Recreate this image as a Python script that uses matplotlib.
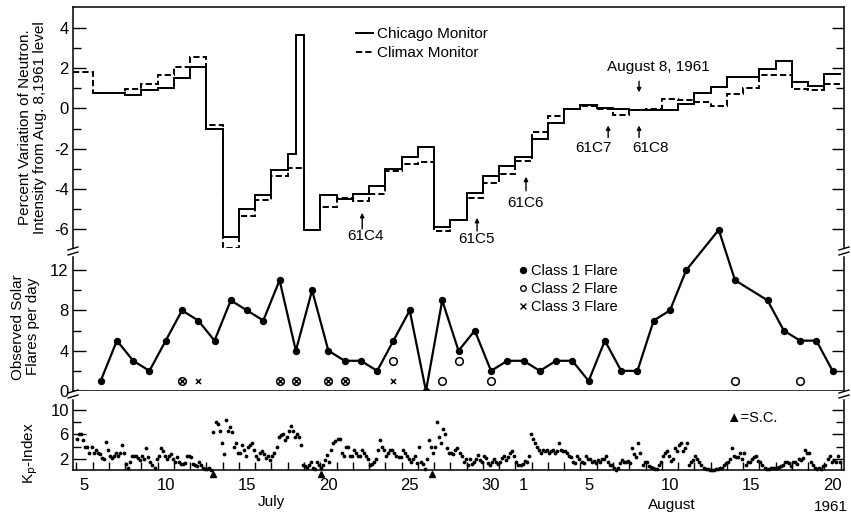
import matplotlib.pyplot as plt
import matplotlib.transforms as mtransforms
import numpy as np
from matplotlib.lines import Line2D

plt.rcParams['font.family'] = ['Liberation Sans', 'DejaVu Sans']
plt.rcParams['axes.unicode_minus'] = False

# time axis: July d -> d, August d -> 31 + d (day start); day centre is d + 0.5
AUG = 31
first_day = 5            # July 5
last_day = AUG + 20      # Aug 20

# ---- neutron monitor daily means (% from Aug 8 level), July 5 .. Aug 20 ----
chicago = [np.nan, 0.78, 0.78, 0.65, 0.9, 1.03, 1.53, 2.07, -1.02, -6.4,
           -5.02, -4.3, -3.07, -2.27, -6.07, -4.3, -4.5, -4.27, -3.88, -3.02,
           -2.4, -1.93, -5.9, -5.55, -4.23, -3.38, -2.88,
           -2.4, -1.52, -0.73, -0.02, 0.18, 0.03, -0.02, -0.1, -0.1, -0.1,
           0.2, 0.78, 1.07, 1.57, 1.57, 1.95, 2.37, 1.32, 1.1, 1.7]
climax = [1.82, 0.78, 0.78, 0.98, 1.23, 1.65, 2.07, 2.57, -0.82, -6.93,
          -5.35, -4.55, -3.38, -2.98, -6.07, -4.9, -4.45, -4.6, -4.27, -3.1,
          -2.77, -2.65, -6.1, -5.55, -4.47, -3.73, -3.27,
          -2.63, -1.15, -0.4, -0.02, 0.13, -0.02, -0.32, -0.1, -0.02, 0.45,
          0.4, 0.32, 0.1, 0.73, 1.03, 1.65, 1.65, 0.98, 0.93, 1.2]
# Chicago half-day peak late on July 18
chicago_spike = (18.5, 19.0, 3.65)

# ---- flares per day ----
flare_days = [6, 7, 8, 9, 10, 11, 12, 13, 14, 15, 16, 17, 18, 19, 20, 21, 22,
              23, 24, 25, 26, 27, 28, 29, 30, 31,
              AUG + 1, AUG + 2, AUG + 3, AUG + 4, AUG + 5, AUG + 6, AUG + 7,
              AUG + 8, AUG + 9, AUG + 10, AUG + 11, AUG + 13, AUG + 14,
              AUG + 16, AUG + 17, AUG + 18, AUG + 19, AUG + 20]
class1 = [1, 5, 3, 2, 5, 8, 7, 5, 9, 8, 7, 11, 4, 10, 4, 3, 3,
          2, 5, 8, 0, 9, 4, 6, 2, 3,
          3, 2, 3, 3, 1, 5, 2, 2, 7, 8, 12, 16, 11, 9, 6, 5, 5, 2]
class2_days = [11, 17, 18, 20, 21, 24, 27, 28, 30, AUG + 14, AUG + 18]
class2 = [1, 1, 1, 1, 1, 3, 1, 3, 1, 1, 1]
class3_days = [11, 12, 17, 18, 20, 21, 24]
class3 = [1, 1, 1, 1, 1, 1, 1]

# ---- 3-hourly Kp, one row per day July 5 .. Aug 20 ----
kp = [
    [5.3, 6.1, 6, 5, 4, 4, 3, 4],          # Jul 5
    [3, 3.5, 3, 2.8, 2.2, 2, 4.8, 3.5],
    [2.5, 2.2, 2.5, 3, 2.5, 3, 4.3, 3],
    [1.2, 0.5, 1.5, 2.5, 2.5, 2.5, 2.2, 1.8],
    [2.5, 2, 3.7, 2.3, 1.5, 1, 0.5, 2],
    [2.5, 3.7, 3.2, 2.5, 2, 2.5, 2.8, 2],   # Jul 10
    [1.5, 2.3, 1.5, 1.2, 1.2, 1.3, 2.5, 2.5],
    [2.3, 1.2, 1, 0.8, 1.5, 1, 0.5, 0.3],
    [0.3, 0.5, 0.2, 6.3, 8, 7.7, 6.5, 4.5],
    [2.8, 8.3, 6.6, 7.2, 6.3, 3.9, 4.5, 3],
    [2.9, 4.2, 3.5, 2.5, 4, 4.3, 4.5, 3.5],  # Jul 15
    [2.5, 2, 3, 3.2, 2.8, 2.2, 2.5, 1.8],
    [2.5, 3, 4, 5.5, 5.8, 6, 5, 5.5],
    [6.5, 7.3, 6.5, 5.5, 6, 5.5, 4.3, 1],
    [0.8, 0.5, 1, 1.5, 0.5, 0.3, 1.5, 1],
    [0.5, 1, 1.8, 2.6, 1.5, 3.4, 4.5, 4.9],  # Jul 20
    [5.3, 5.3, 3, 2.5, 3.9, 3.9, 2.5, 2.5],
    [3.5, 3, 2.5, 2.5, 3.4, 3, 2.5, 2],
    [1, 1.2, 1.5, 2, 3.5, 5, 4, 3.5],
    [2.5, 3, 3.5, 3.5, 3, 2.5, 2.3, 2.3],
    [3.5, 3, 2.5, 2, 1.5, 2, 2.5, 1.3],      # Jul 25
    [3.9, 1.5, 1.2, 0.3, 2, 5, 4, 3],
    [4, 8, 5.5, 4.5, 6.9, 6, 3.7, 3],
    [3, 2.8, 3.4, 3.8, 3, 2.5, 1.5, 2],
    [1, 2, 1.2, 1.5, 2, 2.7, 1.8, 1.5],
    [2.5, 2.2, 1.3, 1, 1.5, 2, 1.5, 1.2],    # Jul 30
    [1.5, 2.2, 2.5, 1.8, 2.3, 3, 3.3, 2.5],
    [1.5, 1, 1, 1.2, 1.6, 1.5, 2.5, 6.1],    # Aug 1
    [5.3, 4.5, 4, 3.5, 3, 3.5, 3.3, 3.5],
    [3, 3.3, 3.5, 3, 3.3, 4.5, 3.5, 3.3],
    [3.3, 3, 2.5, 2.3, 1.5, 1.3, 2.5, 2],
    [1.5, 1.3, 2.5, 2, 2, 1.5, 1.7, 1.3],    # Aug 5
    [1.8, 1.5, 2, 2, 2.5, 1.5, 1, 1],
    [0.5, 0.2, 0.5, 1.3, 1.8, 1.5, 1.5, 1.7],
    [1.3, 3.7, 2.8, 2.3, 4.5, 3, 1, 1.5],
    [1.5, 0.8, 0.7, 0.5, 0.3, 0.4, 1, 1.5],
    [2.5, 3, 3.3, 2.5, 1.7, 2, 3.7, 3.2],    # Aug 10
    [4.2, 4.5, 3.3, 3.8, 4.5, 1, 1.5, 1.8],
    [2.5, 2, 1.5, 1, 0.5, 0.3, 0.3, 0.2],
    [0.2, 0.2, 0.3, 0.3, 0.5, 0.5, 1, 1.3],
    [1.5, 2, 3.7, 2.5, 2.3, 2.3, 3, 2],
    [3, 1, 1.5, 1.5, 2, 2.3, 2.5, 1.7],      # Aug 15
    [1.5, 1, 0.5, 0.3, 0.4, 0.5, 0.6, 0.5],
    [0.5, 0.7, 0.8, 1, 1.5, 1.5, 1.3, 0.8],
    [1.5, 1.5, 1.2, 2, 1.8, 2.2, 3.5, 3],
    [3, 1.5, 1, 0.5, 0.3, 0.5, 0.3, 0.8],
    [1, 2, 2.5, 1.5, 1.8, 1.5, 2.5, 1.5],    # Aug 20
]
# storm sudden commencements
sc_times = [13.42, 20.06, 26.88]

# balloon flights marked with arrows
flights = [('61C4', 22.58, 22.76, -6.0, -5.2, -6.35),
           ('61C5', 29.64, 29.58, -6.1, -5.45, -6.5),
           ('61C6', 32.65, 32.6, -4.1, -3.4, -4.7),
           ('61C7', 37.7, 36.8, -1.45, -0.85, -1.95),
           ('61C8', 39.6, 40.3, -1.45, -0.85, -1.95)]

tick_days = [5, 10, 15, 20, 25, 30, AUG + 1, AUG + 5, AUG + 10, AUG + 15, AUG + 20]
tick_text = ['5', '10', '15', '20', '25', '30', '1', '5', '10', '15', '20']

# -------------------------------------------------------------------------
fig = plt.figure(figsize=(8.51, 5.16), dpi=100)
L, W = 73 / 851, 771 / 851
ax1 = fig.add_axes([L, 1 - 248 / 516, W, 241 / 516])
ax2 = fig.add_axes([L, 1 - 391 / 516, W, 143 / 516], sharex=ax1)
ax3 = fig.add_axes([L, 1 - 470 / 516, W, 79 / 516], sharex=ax1)
xmin, xmax = 4.8, 52.2

# ---- top panel: steps ----
days = np.arange(first_day, last_day + 1)
edges = np.append(days, last_day + 1).astype(float)
edges[0] = xmin
ax1.stairs(climax, edges, color='black', lw=1.4, ls=(0, (3.2, 1.6)), baseline=None)

chi = np.array(chicago)
ok = ~np.isnan(chi)
chi_edges = list(days[ok].astype(float))
chi_vals = list(chi[ok])
i18 = chi_edges.index(18)
chi_edges.insert(i18 + 1, chicago_spike[0])
chi_vals.insert(i18 + 1, chicago_spike[2])
chi_edges.append(last_day + 1)
ax1.stairs(chi_vals, chi_edges, color='black', lw=1.4, baseline=None)

ax1.set_ylim(-6.95, 5.05)
ax1.set_yticks([-6, -4, -2, 0, 2, 4])
ax1.set_yticks([-5, -3, -1, 1, 3], minor=True)
ax1.spines['bottom'].set_visible(False)
ax1.set_ylabel('Percent Variation of Neutron.\nIntensity from Aug. 8,1961 level',
               fontsize=11, linespacing=1.05)
ax1.yaxis.set_label_coords(-0.034, 0.5)

for name, xa, xt, y0, y1, yt in flights:
    ax1.annotate('', xy=(xa, y1), xytext=(xa, y0),
                 arrowprops=dict(arrowstyle='-|>', lw=1, color='black',
                                 mutation_scale=6, shrinkA=0, shrinkB=0))
    ax1.text(xt, yt, name, ha='center', va='center', fontsize=11)
ax1.annotate('', xy=(39.6, 0.8), xytext=(39.6, 1.35),
             arrowprops=dict(arrowstyle='-|>', lw=1, color='black',
                             mutation_scale=6, shrinkA=0, shrinkB=0))
ax1.text(40.8, 2.05, 'August 8, 1961', ha='center', va='center', fontsize=11)

h1 = [Line2D([], [], color='black', lw=1.4),
      Line2D([], [], color='black', lw=1.4, ls=(0, (3.2, 1.6)))]
ax1.legend(h1, ['Chicago Monitor', 'Climax Monitor'], loc='upper left',
           bbox_to_anchor=(0.367, 0.915), frameon=False, fontsize=11,
           handlelength=1.1, handletextpad=0.25, labelspacing=0.3,
           borderpad=0, borderaxespad=0)

# ---- middle panel: flares ----
fd = np.array(flare_days) + 0.5
ax2.plot(fd, class1, '-o', color='black', lw=1.6, ms=4.3, clip_on=False, zorder=3)
ax2.plot(np.array(class2_days) + 0.5, class2, 'o', ms=5.5, mfc='white',
         mec='black', mew=1.1, ls='none', clip_on=False)
ax2.plot(np.array(class3_days) + 0.5, class3, 'x', ms=3.6, mec='black',
         mew=1.1, ls='none', clip_on=False)
ax2.set_ylim(0, 14.2)
ax2.set_yticks([0, 4, 8, 12])
ax2.set_yticks([2, 6, 10], minor=True)
ax2.spines['top'].set_visible(False)
ax2.set_ylabel('Observed Solar\nFlares per day', fontsize=11, linespacing=1.1)
ax2.yaxis.set_label_coords(-0.043, 0.45)
h2 = [Line2D([], [], marker='o', ms=4.3, color='black', ls='none'),
      Line2D([], [], marker='o', ms=4, mfc='white', mec='black', mew=1, ls='none'),
      Line2D([], [], marker='x', ms=4, mec='black', mew=1, ls='none')]
ax2.legend(h2, ['Class 1 Flare', 'Class 2 Flare', 'Class 3 Flare'],
           loc='upper left', bbox_to_anchor=(0.577, 0.89), frameon=False,
           fontsize=10.5, handlelength=0.7, handletextpad=0.2,
           labelspacing=0.28, borderpad=0, borderaxespad=0)

# ---- bottom panel: Kp ----
kp_arr = np.array(kp)
kp_t = (days[:, None] + (np.arange(8) + 0.5) / 8).ravel()
ax3.plot(kp_t, kp_arr.ravel(), 'o', color='black', ms=1.7, ls='none', clip_on=False)
trans = mtransforms.blended_transform_factory(ax3.transData, ax3.transAxes)
ax3.plot(sc_times, [-0.05] * len(sc_times), '^', color='black', ms=4,
         transform=trans, clip_on=False)
ax3.text(0.847, 0.66, '\u25b2=S.C.', transform=ax3.transAxes, fontsize=10.5,
         ha='left', va='center')
ax3.set_ylim(0.2, 13)
ax3.set_yticks([2, 6, 10])
ax3.set_yticks([4, 8], minor=True)
ax3.spines['top'].set_visible(False)
ax3.set_ylabel('K$_\\mathrm{p}$-Index', fontsize=11)
ax3.yaxis.set_label_coords(-0.043, 0.22)

ax3.set_xlim(xmin, xmax)
ax3.set_xticks(np.array(tick_days) + 0.5)
ax3.set_xticklabels(tick_text)
ax3.set_xticks(np.arange(first_day, last_day + 2), minor=True)
ax3.tick_params(axis='x', which='major', length=0, pad=6, labelsize=12)
ax3.tick_params(axis='x', which='minor', direction='in', length=6, width=1,
                top=False)
ax3.text(17.0, -0.41, 'July', transform=trans, ha='center', va='center', fontsize=11)
ax3.text(41.6, -0.44, 'August', transform=trans, ha='center', va='center', fontsize=11)
fig.text(848 / 851, 1 - 507 / 516, '1961', ha='right', va='center', fontsize=11)

for ax in (ax1, ax2):
    ax.tick_params(axis='x', which='both', bottom=False, top=False, labelbottom=False)

for ax in (ax1, ax2, ax3):
    ax.tick_params(axis='y', which='major', direction='in', length=9, width=1,
                   left=True, right=True, labelsize=12, pad=3)
    ax.tick_params(axis='y', which='minor', direction='in', length=6, width=1,
                   left=True, right=True)
    for s in ax.spines.values():
        s.set_linewidth(1.1)


def break_mark(ax, y):
    """small double slash cutting the left and right spines at axes height y"""
    w = 5 / ax.bbox.width
    dy = 2.5 / ax.bbox.height
    for x in (0, 1):
        ax.plot([x, x], [y - dy, y + dy], color='white', lw=2.5,
                transform=ax.transAxes, clip_on=False, zorder=5)
        for k in (-1, 1):
            ax.plot([x - w, x + w], [y + k * dy - dy * 0.6, y + k * dy + dy * 0.6],
                    color='black', lw=1, transform=ax.transAxes, clip_on=False,
                    zorder=6)


break_mark(ax2, 1 - 3 / 143)
break_mark(ax3, 1 - 3 / 79)

fig.savefig('out.png', dpi=100)
